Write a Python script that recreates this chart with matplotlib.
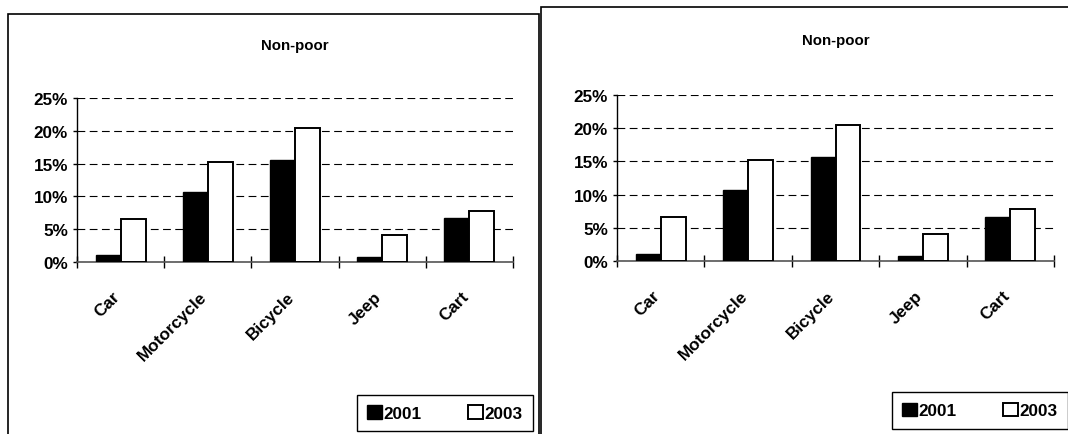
import matplotlib
matplotlib.use('Agg')
import matplotlib.pyplot as plt
from matplotlib.patches import Rectangle
from matplotlib.transforms import ScaledTranslation
import numpy as np

plt.rcParams['font.family'] = ['Liberation Sans', 'DejaVu Sans']
plt.rcParams['font.weight'] = 'bold'

# data (percent of non-poor households)
categories = ['Car', 'Motorcycle', 'Bicycle', 'Jeep', 'Cart']
years = ['2001', '2003']
share_2001 = [1.1, 10.7, 15.6, 0.8, 6.7]
share_2003 = [6.6, 15.2, 20.5, 4.05, 7.85]
y_ticks = [0, 5, 10, 15, 20, 25]
title = 'Non-poor'

W, H = 1068, 435
fig = plt.figure(figsize=(W / 100, H / 100), dpi=100)


def fx(px):
    return px / W


def fy(py):
    return 1 - py / H


def draw_panel(x0, x1, y_top, y_zero, title_y, legend_c):
    ax = fig.add_axes([fx(x0), fy(y_zero), fx(x1 - x0), fy(y_top) - fy(y_zero)])
    x = np.arange(len(categories))
    w = 1 / 3.5
    b1 = ax.bar(x - w / 2, share_2001, w, color='black', edgecolor='black',
                linewidth=1.0, label=years[0], zorder=3)
    b2 = ax.bar(x + w / 2, share_2003, w, color='white', edgecolor='black',
                linewidth=1.4, label=years[1], zorder=3)

    ax.set_xlim(-0.5, len(categories) - 0.5)
    ax.set_ylim(0, 25)
    ax.set_yticks(y_ticks)
    ax.set_yticklabels([f'{t}%' for t in y_ticks], fontsize=12.3, fontweight='bold')
    ax.yaxis.grid(True, color='black', linewidth=0.8, dashes=(7, 4))
    ax.set_axisbelow(True)

    # tick marks between categories, names on minor ticks
    ax.set_xticks(np.arange(-0.5, len(categories), 1.0))
    ax.set_xticklabels([])
    ax.set_xticks(x, minor=True)
    ax.set_xticklabels(categories, minor=True, fontsize=12.3, fontweight='bold')
    ax.tick_params(axis='x', which='major', direction='inout', length=9,
                   width=1, color='black')
    ax.tick_params(axis='x', which='minor', length=0, pad=23)
    shift = ScaledTranslation(-3 / 100, 0, fig.dpi_scale_trans)
    for lab in ax.get_xticklabels(minor=True):
        lab.set_rotation(45)
        lab.set_ha('right')
        lab.set_va('center')
        lab.set_rotation_mode('anchor')
        lab.set_transform(lab.get_transform() + shift)
    ax.tick_params(axis='y', direction='out', length=3, width=1, pad=3.5)

    for s in ['top', 'right']:
        ax.spines[s].set_visible(False)
    ax.spines['left'].set_linewidth(1)
    ax.spines['bottom'].set_linewidth(1.2)
    ax.spines['bottom'].set_color('#555555')

    fig.text(fx((x0 + x1) / 2), fy(title_y), title, ha='center', va='center',
             fontsize=10.8, fontweight='bold')

    ax.legend(handles=[b1, b2], loc='center', ncol=2,
              bbox_to_anchor=(fx(legend_c[0]), fy(legend_c[1])),
              bbox_transform=fig.transFigure, fontsize=12.3, frameon=True,
              fancybox=False, edgecolor='black', framealpha=1,
              handlelength=0.85, handleheight=0.85, handletextpad=0.12,
              columnspacing=2.7, borderpad=0.6, borderaxespad=0)
    ax.get_legend().get_frame().set_linewidth(1.0)
    return ax


# left panel
draw_panel(77, 513, 99, 263, 46, (445, 414))
# right panel
draw_panel(617, 1054, 96, 262, 41, (980, 411.5))

# panel frames
fig.patches.append(Rectangle((fx(8), fy(445)), fx(539 - 8), fy(15) - fy(445),
                             transform=fig.transFigure, fill=False,
                             edgecolor='black', linewidth=1.2))
fig.patches.append(Rectangle((fx(540.5), fy(445)), fx(560), fy(8) - fy(445),
                             transform=fig.transFigure, fill=False,
                             edgecolor='black', linewidth=1.2))

fig.savefig('out.png', dpi=100)
